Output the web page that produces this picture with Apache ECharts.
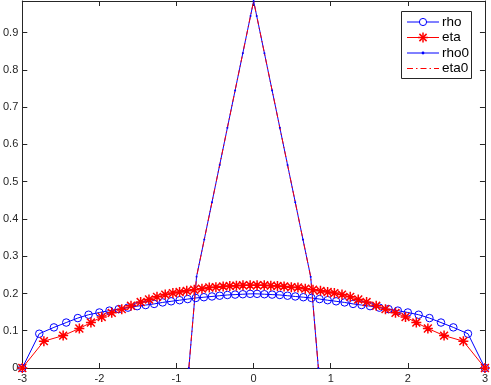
<!DOCTYPE html>
<html><head><meta charset="utf-8">
<script src="https://cdn.jsdelivr.net/npm/echarts@6/dist/echarts.min.js"></script>
<style>html,body{margin:0;padding:0;background:#fff}#c{width:491px;height:385px}</style>
</head><body><div id="c"></div>
<script>
// ---- data ----
const rhoX = [-3, -2.78, -2.59, -2.43, -2.28, -2.14, -2.00, -1.87, -1.75, -1.63, -1.51, -1.40, -1.29, -1.18, -1.07, -0.96, -0.855, -0.75, -0.645, -0.54, -0.44, -0.34, -0.24, -0.14, -0.045,
              0.045, 0.14, 0.24, 0.34, 0.44, 0.54, 0.645, 0.75, 0.855, 0.96, 1.07, 1.18, 1.29, 1.40, 1.51, 1.63, 1.75, 1.87, 2.00, 2.14, 2.28, 2.43, 2.59, 2.78, 3];
const rhoY = [0, 0.092, 0.109, 0.122, 0.134, 0.143, 0.149, 0.154, 0.158, 0.162, 0.166, 0.169, 0.172, 0.176, 0.179, 0.182, 0.185, 0.188, 0.190, 0.192, 0.194, 0.196, 0.197, 0.198, 0.199,
              0.199, 0.198, 0.197, 0.196, 0.194, 0.192, 0.190, 0.188, 0.185, 0.182, 0.179, 0.176, 0.172, 0.169, 0.166, 0.162, 0.158, 0.154, 0.149, 0.143, 0.134, 0.122, 0.109, 0.092, 0];
const etaX = [-3, -2.72, -2.47, -2.26, -2.11, -1.97, -1.84, -1.71, -1.59, -1.465, -1.357, -1.253, -1.146, -1.047, -0.96, -0.867, -0.77, -0.67, -0.575, -0.489, -0.395, -0.309, -0.223, -0.138, -0.045,
              0.045, 0.138, 0.223, 0.309, 0.395, 0.489, 0.575, 0.67, 0.77, 0.867, 0.96, 1.047, 1.146, 1.253, 1.357, 1.465, 1.59, 1.71, 1.84, 1.97, 2.11, 2.26, 2.47, 2.72, 3];
const etaY = [0, 0.072, 0.087, 0.106, 0.122, 0.137, 0.148, 0.158, 0.167, 0.177, 0.184, 0.191, 0.197, 0.201, 0.204, 0.207, 0.210, 0.213, 0.216, 0.217, 0.219, 0.220, 0.221, 0.222, 0.222,
              0.222, 0.222, 0.221, 0.220, 0.219, 0.217, 0.216, 0.213, 0.210, 0.207, 0.204, 0.201, 0.197, 0.191, 0.184, 0.177, 0.167, 0.158, 0.148, 0.137, 0.122, 0.106, 0.087, 0.072, 0];
const rho0X = [-0.84, -0.74, -0.64, -0.54, -0.44, -0.34, -0.24, -0.14, -0.04, 0, 0.04, 0.14, 0.24, 0.34, 0.44, 0.54, 0.64, 0.74, 0.84];
const rho0Y = [0, 0.245, 0.345, 0.445, 0.545, 0.645, 0.745, 0.845, 0.945, 0.985, 0.945, 0.845, 0.745, 0.645, 0.545, 0.445, 0.345, 0.245, 0];
const eta0X = [-0.84, -0.74, -0.64, -0.54, -0.44, -0.34, -0.24, -0.14, -0.04, 0, 0.04, 0.14, 0.24, 0.34, 0.44, 0.54, 0.64, 0.74, 0.84];
const eta0Y = [0, 0.245, 0.345, 0.445, 0.545, 0.645, 0.745, 0.845, 0.945, 0.985, 0.945, 0.845, 0.745, 0.645, 0.545, 0.445, 0.345, 0.245, 0];
const xMin = -3, xMax = 3, xStep = 1;
const yMin = 0, yMax = 0.985, yStep = 0.1;
const seriesNames = ['rho', 'eta', 'rho0', 'eta0'];

const pairs = (xs, ys) => xs.map((x, i) => [x, ys[i]]);
const FONT = '"Liberation Sans", Arial, Helvetica, sans-serif';
const AX = '#262626';
const BLUE = '#0000ff', RED = '#ff0000';
const STAR_D = 'M8.5,0L11.5,0L11.5,8.5L20,8.5L20,11.5L11.5,11.5L11.5,20L8.5,20L8.5,11.5L0,11.5L0,8.5L8.5,8.5Z M3.2,1.1L10,7.9L16.8,1.1L18.9,3.2L12.1,10L18.9,16.8L16.8,18.9L10,12.1L3.2,18.9L1.1,16.8L7.9,10L1.1,3.2Z';
const DASHDOT = [6, 3, 1.5, 3];

const axisCommon = {
  type: 'value',
  axisLine: { show: true, onZero: false, lineStyle: { color: AX, width: 1 } },
  axisTick: { show: true, inside: true, length: 5, lineStyle: { color: AX, width: 1 } },
  splitLine: { show: false }
};

// ---- legend built as graphic elements (box, sample lines, markers, real text) ----
const LG = { x: 401, y: 11, w: 71, h: 68, rows: [22, 37.5, 53, 68.5], lx1: 407, lx2: 439, tx: 442 };
const legendStyles = [
  { color: BLUE, dash: null, marker: 'circle' },
  { color: RED, dash: null, marker: 'star' },
  { color: BLUE, dash: null, marker: 'dot' },
  { color: RED, dash: DASHDOT, marker: null }
];
const graphics = [{ type: 'rect', z: 100, shape: { x: LG.x + 0.5, y: LG.y + 0.5, width: LG.w - 1, height: LG.h - 1 },
  style: { fill: '#fff', stroke: AX, lineWidth: 1 } }];
seriesNames.forEach((name, i) => {
  const cy = LG.rows[i], st = legendStyles[i], cx = (LG.lx1 + LG.lx2) / 2;
  graphics.push({ type: 'line', z: 101, shape: { x1: LG.lx1, y1: cy, x2: LG.lx2, y2: cy },
    style: { stroke: st.color, lineWidth: 1, lineDash: st.dash || null } });
  if (st.marker === 'circle') graphics.push({ type: 'circle', z: 102, shape: { cx: cx, cy: cy, r: 3.6 }, style: { fill: '#fff', stroke: st.color, lineWidth: 1 } });
  if (st.marker === 'dot') graphics.push({ type: 'circle', z: 102, shape: { cx: cx, cy: cy, r: 1.4 }, style: { fill: st.color } });
  if (st.marker === 'star') {
    const r = 5, d = 3.6;
    [[-r, 0, r, 0], [0, -r, 0, r], [-d, -d, d, d], [-d, d, d, -d]].forEach(s => {
      graphics.push({ type: 'line', z: 102, shape: { x1: cx + s[0], y1: cy + s[1], x2: cx + s[2], y2: cy + s[3] }, style: { stroke: st.color, lineWidth: 1.5 } });
    });
  }
  graphics.push({ type: 'text', z: 102, style: { x: LG.tx, y: cy, text: name, fill: '#000', font: '13.5px ' + FONT, verticalAlign: 'middle', align: 'left' } });
});

const chart = echarts.init(document.getElementById('c'), null, { renderer: 'canvas' });
chart.setOption({
  animation: false,
  backgroundColor: '#fff',
  grid: { left: 20, right: 5, top: 1, bottom: 17, containLabel: false },
  xAxis: [
    Object.assign({}, axisCommon, { position: 'bottom', min: xMin, max: xMax, interval: xStep,
      axisLabel: { color: AX, fontSize: 11, fontFamily: FONT, margin: 5 } }),
    Object.assign({}, axisCommon, { position: 'top', min: xMin, max: xMax, interval: xStep,
      axisLabel: { show: false } })
  ],
  yAxis: [
    Object.assign({}, axisCommon, { position: 'left', min: yMin, max: yMax, interval: yStep,
      axisLabel: { color: AX, fontSize: 11, fontFamily: FONT, margin: 4, showMaxLabel: false,
        formatter: v => (Math.abs(v - Math.round(v * 10) / 10) < 1e-9 ? String(Math.round(v * 10) / 10) : '') } }),
    Object.assign({}, axisCommon, { position: 'right', min: yMin, max: yMax, interval: yStep,
      axisLabel: { show: false } })
  ],
  graphic: graphics,
  series: [
    { name: seriesNames[0], type: 'line', data: pairs(rhoX, rhoY),
      symbol: 'circle', symbolSize: 7.5, showAllSymbol: true,
      lineStyle: { color: BLUE, width: 1 },
      itemStyle: { color: 'rgba(255,255,255,0)', borderColor: BLUE, borderWidth: 1 } },
    { name: seriesNames[1], type: 'line', data: pairs(etaX, etaY),
      symbol: 'path://' + STAR_D, symbolSize: 10, showAllSymbol: true,
      lineStyle: { color: RED, width: 1 },
      itemStyle: { color: RED, borderWidth: 0 } },
    { name: seriesNames[2], type: 'line', data: pairs(rho0X, rho0Y),
      symbol: 'circle', symbolSize: 2, showAllSymbol: true,
      lineStyle: { color: BLUE, width: 1 },
      itemStyle: { color: BLUE, borderWidth: 0 } },
    { name: seriesNames[3], type: 'line', data: pairs(eta0X, eta0Y),
      symbol: 'none',
      lineStyle: { color: RED, width: 1, type: DASHDOT } }
  ]
});
</script></body></html>
